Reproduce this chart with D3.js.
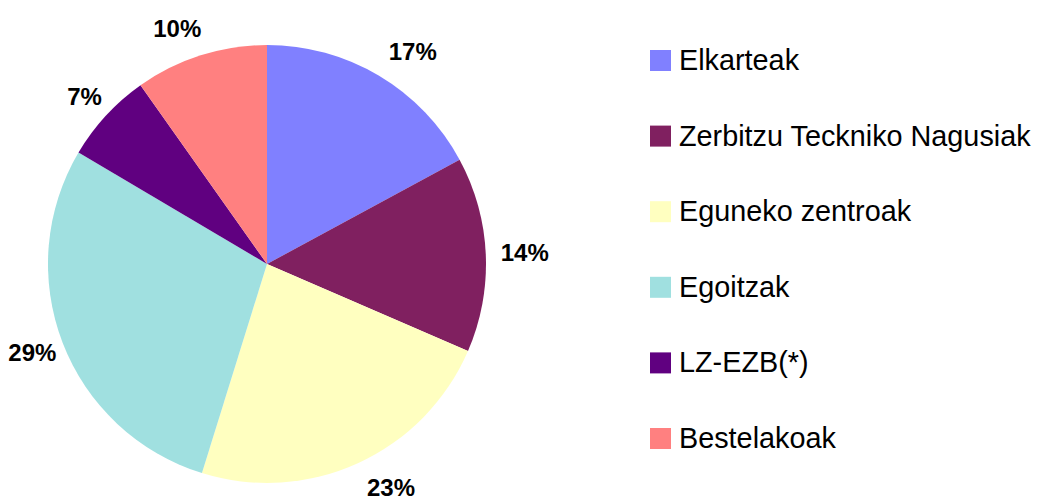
<!DOCTYPE html>
<html>
<head>
<meta charset="utf-8">
<script src="https://cdn.jsdelivr.net/npm/d3@7/dist/d3.min.js"></script>
<style>
  html, body { margin: 0; padding: 0; background: #fff; }
  svg { display: block; }
</style>
</head>
<body>
<svg id="chart" width="1038" height="500"></svg>
<script>
const categories = ["Elkarteak", "Zerbitzu Teckniko Nagusiak", "Eguneko zentroak", "Egoitzak", "LZ-EZB(*)", "Bestelakoak"];
const values = [17.1, 14.4, 23.3, 28.7, 6.7, 9.8];
const labels = ["17%", "14%", "23%", "29%", "7%", "10%"];
const colors = ["#8080FF", "#802060", "#FFFFC0", "#A0E0E0", "#600080", "#FF8080"];

const data = categories.map((c, i) => ({ name: c, value: values[i], label: labels[i] }));

const svg = d3.select("#chart");
const cx = 267, cy = 264, R = 219;
const labelRx = 230, labelRy = 247, labelShiftX = 4;

const color = d3.scaleOrdinal().domain(categories).range(colors);
const pie = d3.pie().value(d => d.value).sort(null).startAngle(0).endAngle(2 * Math.PI);
const arc = d3.arc().innerRadius(0).outerRadius(R);

const arcs = pie(data);
const g = svg.append("g").attr("transform", `translate(${cx},${cy})`);

g.selectAll("path.slice")
  .data(arcs)
  .enter().append("path")
  .attr("class", "slice")
  .attr("d", arc)
  .attr("fill", d => color(d.data.name));

const mid = d => (d.startAngle + d.endAngle) / 2;

g.selectAll("text.pct")
  .data(arcs)
  .enter().append("text")
  .attr("class", "pct")
  .attr("x", d => labelShiftX + labelRx * Math.sin(mid(d)))
  .attr("y", d => -labelRy * Math.cos(mid(d)))
  .attr("text-anchor", d => Math.sin(mid(d)) >= 0 ? "start" : "end")
  .attr("dy", "0.33em")
  .style("font-family", "'Liberation Sans', Arial, sans-serif")
  .style("font-weight", "bold")
  .style("font-size", "24px")
  .style("fill", "#000")
  .text(d => d.data.label);

// Legend
const ly = d3.scalePoint().domain(categories).range([60, 438]);
const legend = svg.append("g");
const items = legend.selectAll("g.item")
  .data(data)
  .enter().append("g")
  .attr("class", "item")
  .attr("transform", d => `translate(650,${ly(d.name)})`);

items.append("rect")
  .attr("x", 0).attr("y", -10)
  .attr("width", 21).attr("height", 21)
  .attr("fill", d => color(d.name));

items.append("text")
  .attr("x", 29)
  .attr("y", 10)
  .style("font-family", "'Liberation Sans', Arial, sans-serif")
  .style("font-size", "28.8px")
  .style("fill", "#000")
  .text(d => d.name);
</script>
</body>
</html>
